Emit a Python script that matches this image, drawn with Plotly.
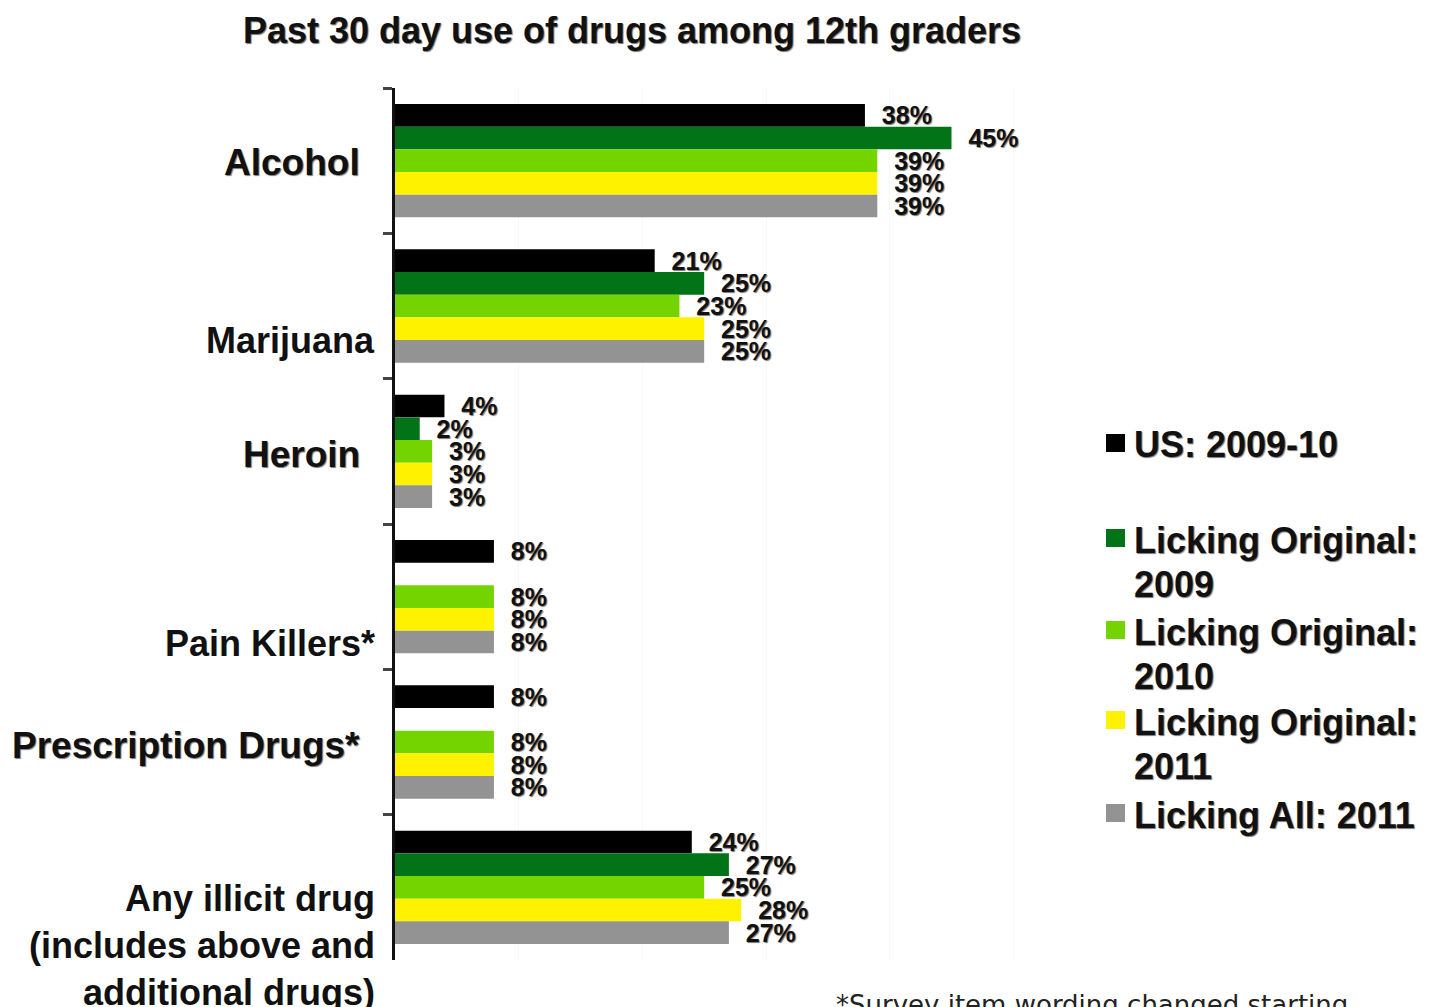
import plotly.graph_objects as go

# ---------------- data ----------------
categories = ["Alcohol", "Marijuana", "Heroin", "Pain Killers*", "Prescription Drugs*", "Any illicit drug"]
cat_labels = ["Alcohol", "Marijuana", "Heroin", "Pain Killers*", "Prescription Drugs*",
              "Any illicit drug<br>(includes above and<br>additional drugs)"]
series_names = ["US: 2009-10", "Licking Original:\n2009", "Licking Original:\n2010",
                "Licking Original:\n2011", "Licking All: 2011"]
us_2009_10 = [38, 21, 4, 8, 8, 24]
orig_2009 = [45, 25, 2, None, None, 27]
orig_2010 = [39, 23, 3, 8, 8, 25]
orig_2011 = [39, 25, 3, 8, 8, 28]
all_2011 = [39, 25, 3, 8, 8, 27]
series_values = [us_2009_10, orig_2009, orig_2010, orig_2011, all_2011]
colors = ["#000000", "#037318", "#74D400", "#FFF200", "#939393"]

title_text = "Past 30 day use of drugs among 12th graders"
footnote = "*Survey item wording changed starting"

# ---------------- layout geometry ----------------
W, H = 1431, 1007
L, R, T, B = 395, 294, 88, 47
PW, PH = W - L - R, H - T - B
XMAX = 60


def px_x(px):
    return (px - L) / PW


def px_y(py):
    return (H - B - py) / PH


FONT = "Liberation Sans, Arial, sans-serif"
SHADOW = "1px 1px 1px #777"

fig = go.Figure()
for name, vals, col in zip(series_names, series_values, colors):
    fig.add_trace(go.Bar(
        y=categories, x=vals, orientation="h", name=name.replace("\n", " "),
        marker=dict(color=col, line=dict(width=0)),
        text=[None if v is None else f"\u00a0\u00a0{v}%" for v in vals],
        textposition="outside", cliponaxis=False, constraintext="none",
        textfont=dict(family=FONT, size=25, color="#111", weight="bold", shadow=SHADOW),
        showlegend=False,
    ))

fig.update_layout(
    width=W, height=H, autosize=False,
    margin=dict(l=L, r=R, t=T, b=B),
    paper_bgcolor="white", plot_bgcolor="white",
    barmode="group", bargap=0.22, bargroupgap=0,
    xaxis=dict(range=[0, XMAX], dtick=10, showgrid=True, gridcolor="#f8f8f8",
               showticklabels=False, ticks="", zeroline=False, showline=False),
    yaxis=dict(autorange="reversed", showticklabels=False, showline=True,
               linecolor="#111", linewidth=3, ticks="outside", tickson="boundaries",
               ticklen=9, tickwidth=3, tickcolor="#444", showgrid=False),
    title=dict(text=title_text, xref="container", yref="container",
               x=632 / W, y=1 - 30 / H, xanchor="center", yanchor="middle",
               font=dict(family=FONT, size=36, color="#111", weight="bold", shadow=SHADOW)),
)

# category labels (right-aligned text boxes left of the axis)
label_pos = [(362, 163), (377, 340), (362, 455), (377, 643), (362, 745), (377, 945)]
heavy = [True, False, True, False, True, False]
for txt, (xr, yc), hv in zip(cat_labels, label_pos, heavy):
    fig.add_annotation(
        text=txt, xref="paper", yref="paper", x=px_x(xr), y=px_y(yc),
        xanchor="right", yanchor="middle", align="right", showarrow=False,
        font=dict(family=FONT, size=37 if hv else 36, color="#111", weight="bold",
                  shadow=SHADOW if hv else "none"),
    )

# legend drawn as squares + text
leg_y = [443, 538, 630, 720, 813]
line_gap = 44
for name, col, y0 in zip(series_names, colors, leg_y):
    fig.add_shape(type="rect", xref="paper", yref="paper",
                  x0=px_x(1106), x1=px_x(1125), y0=px_y(y0 - 9), y1=px_y(y0 + 9),
                  fillcolor=col, line=dict(width=0))
    for i, line in enumerate(name.split("\n")):
        fig.add_annotation(
            text=line, xref="paper", yref="paper", x=px_x(1132), y=px_y(y0 + 2 + i * line_gap),
            xanchor="left", yanchor="middle", showarrow=False,
            font=dict(family=FONT, size=36, color="#111", weight="bold", shadow=SHADOW),
        )

# footnote (partially cut off by the bottom edge)
fig.add_annotation(
    text=footnote, xref="paper", yref="paper", x=px_x(834), y=px_y(988),
    xanchor="left", yanchor="top", showarrow=False,
    font=dict(family="DejaVu Sans, Verdana, sans-serif", size=26, color="#222"),
)

fig.write_html("out.html")
